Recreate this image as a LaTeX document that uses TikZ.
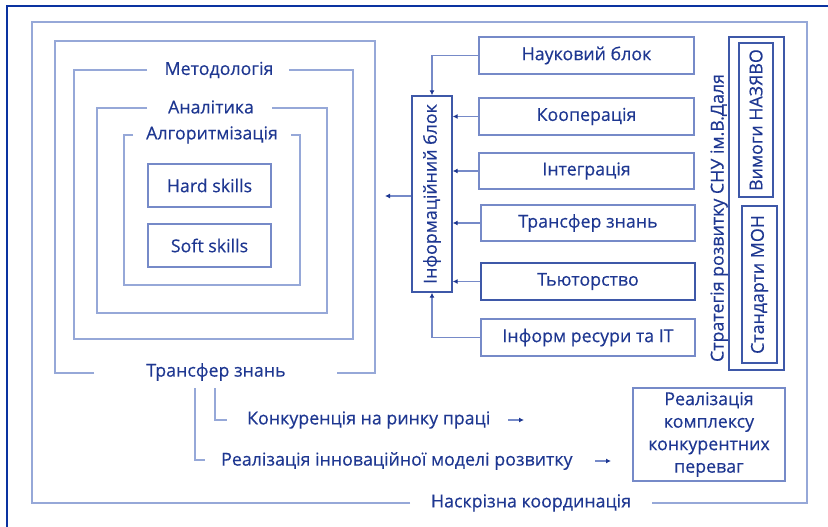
\documentclass[tikz,border=0pt]{standalone}
\usepackage{fontspec}
\setmainfont{Open Sans}[FakeBold=0.35]
\usetikzlibrary{arrows.meta}
\definecolor{txt}{RGB}{30,55,145}
\definecolor{lightln}{RGB}{150,168,216}
\definecolor{boxln}{RGB}{118,138,200}
\definecolor{darkbox}{RGB}{62,88,168}
\definecolor{tipc}{RGB}{30,55,145}
\definecolor{frameblue}{RGB}{10,50,160}
\begin{document}
\begin{tikzpicture}[x=1pt,y=-1pt,
  every node/.style={font=\fontsize{17.8}{22}\selectfont, text=txt},
  frameln/.style={draw=lightln, line width=1.7pt},
  lbl/.style={inner sep=0pt},
  skillbox/.style={draw=boxln, line width=1.4pt, minimum width=123pt, minimum height=43pt, inner sep=0pt},
  rbox/.style={draw=boxln, line width=1.4pt, minimum width=215pt, minimum height=37pt, inner sep=0pt},
  conn/.style={draw=lightln, line width=1.4pt},
  arr/.style={conn, -{Latex[length=5pt,width=5pt,color=tipc]}, draw=boxln},
  vtext/.style={rotate=90, inner sep=0pt}
]
\useasboundingbox (0,0) rectangle (828,527);
\fill[white] (0,0) rectangle (828,527);
% dark outer frame (top and left)
\draw[frameblue, line width=1.6pt] (7,527) -- (7,6) -- (828,6);

% outermost light frame with bottom title
\node[lbl] (coord) at (531,503) {Наскрізна координація};
\draw[frameln] (410,503) -- (32,503) -- (32,22) -- (807,22) -- (807,503) -- (652,503);

% Трансфер знань frame
\node[lbl] (transf) at (216,372) {Трансфер знань};
\draw[frameln] (94,373) -- (55,373) -- (55,41) -- (375,41) -- (375,373) -- (337,373);

% Методологія frame
\node[lbl] (metod) at (219,70) {Методологія};
\draw[frameln] (147,70) -- (74,70) -- (74,339) -- (353,339) -- (353,70) -- (289,70);

% Аналітика frame
\node[lbl] (anal) at (211,107) {Аналітика};
\draw[frameln] (147,108) -- (97,108) -- (97,313) -- (327,313) -- (327,108) -- (272,108);

% Алгоритмізація frame
\node[lbl] (alg) at (212,135) {Алгоритмізація};
\draw[frameln] (133,135) -- (124,135) -- (124,285) -- (300,285) -- (300,135) -- (291,135);

% skills
\node[skillbox] (hard) at (209.5,185.5) {Hard skills};
\node[skillbox] (soft) at (209.5,245.5) {Soft skills};

% information block
\node[draw=darkbox, line width=1.4pt, minimum width=40pt, minimum height=196pt, inner sep=0pt] (info) at (432,194) {};
\node[vtext] (infot) at (info.center) {Інформаційний блок};

% right boxes
\node[rbox] (nauk) at (586.5,55.5) {Науковий блок};
\node[rbox] (koop) at (586.5,116.5) {Кооперація};
\node[rbox, minimum height=36pt] (integ) at (586.5,171) {Інтеграція};
\node[rbox, minimum width=214pt, minimum height=36pt] (trzn) at (588,223) {Трансфер знань};
\node[rbox, draw=darkbox, minimum width=214pt] (tyut) at (588,281.5) {Тьюторство};
\node[rbox, minimum width=214pt] (inform) at (588,337.5) {Інформ ресури та ІТ};

% arrows to information block
\draw[arr] (nauk.west) -| (info.north);
\draw[arr] (koop.west) -- (koop.west -| info.east);
\draw[arr] (integ.west) -- (integ.west -| info.east);
\draw[arr] (trzn.west) -- (trzn.west -| info.east);
\draw[arr] (tyut.west) -- (tyut.west -| info.east);
\draw[arr] (inform.west) -| (info.south);
\coordinate (infoout) at (385,196);
\draw[arr] (info.west |- infoout) -- (infoout);

% strategy box
\node[draw=darkbox, line width=1.4pt, minimum width=55pt, minimum height=333pt, inner sep=0pt] (strat) at (756.5,203.5) {};
\node[vtext, anchor=south, yshift=1pt] (stratt) at (729,218) {Стратегія розвитку СНУ ім.В.Даля};
\node[draw=darkbox, line width=1.4pt, minimum width=34pt, minimum height=154pt, inner sep=0pt] (nazyavo) at (756,120) {};
\node[vtext] at (nazyavo.center) {Вимоги НАЗЯВО};
\node[draw=darkbox, line width=1.4pt, minimum width=35pt, minimum height=157pt, inner sep=0pt] (mon) at (759.5,284.5) {};
\node[vtext] at (mon.center) {Стандарти МОН};

% realisation box
\node[draw=boxln, line width=1.4pt, minimum width=152pt, minimum height=93pt, inner sep=0pt, align=center,
      font=\fontsize{17.8}{22.5}\selectfont] (real) at (709,434.5) {Реалізація\\комплексу\\конкурентних\\переваг};

% bottom texts
\node[lbl, anchor=west] (konk) at (247,420) {Конкуренція на ринку праці};
\node[lbl, anchor=west] (innov) at (221,461) {Реалізація інноваційної моделі розвитку};
\coordinate (k1) at (215,388);
\coordinate (k2) at (227,420);
\coordinate (i1) at (195,388);
\coordinate (i2) at (205,460);
\draw[conn] (k1) |- (k2);
\draw[conn] (i1) |- (i2);
\coordinate (ka1) at (508,420);
\coordinate (ka2) at (524,420);
\coordinate (ia1) at (595,461);
\coordinate (ia2) at (611,461);
\draw[arr] (ka1) -- (ka2);
\draw[arr] (ia1) -- (ia2);
\end{tikzpicture}
\end{document}
